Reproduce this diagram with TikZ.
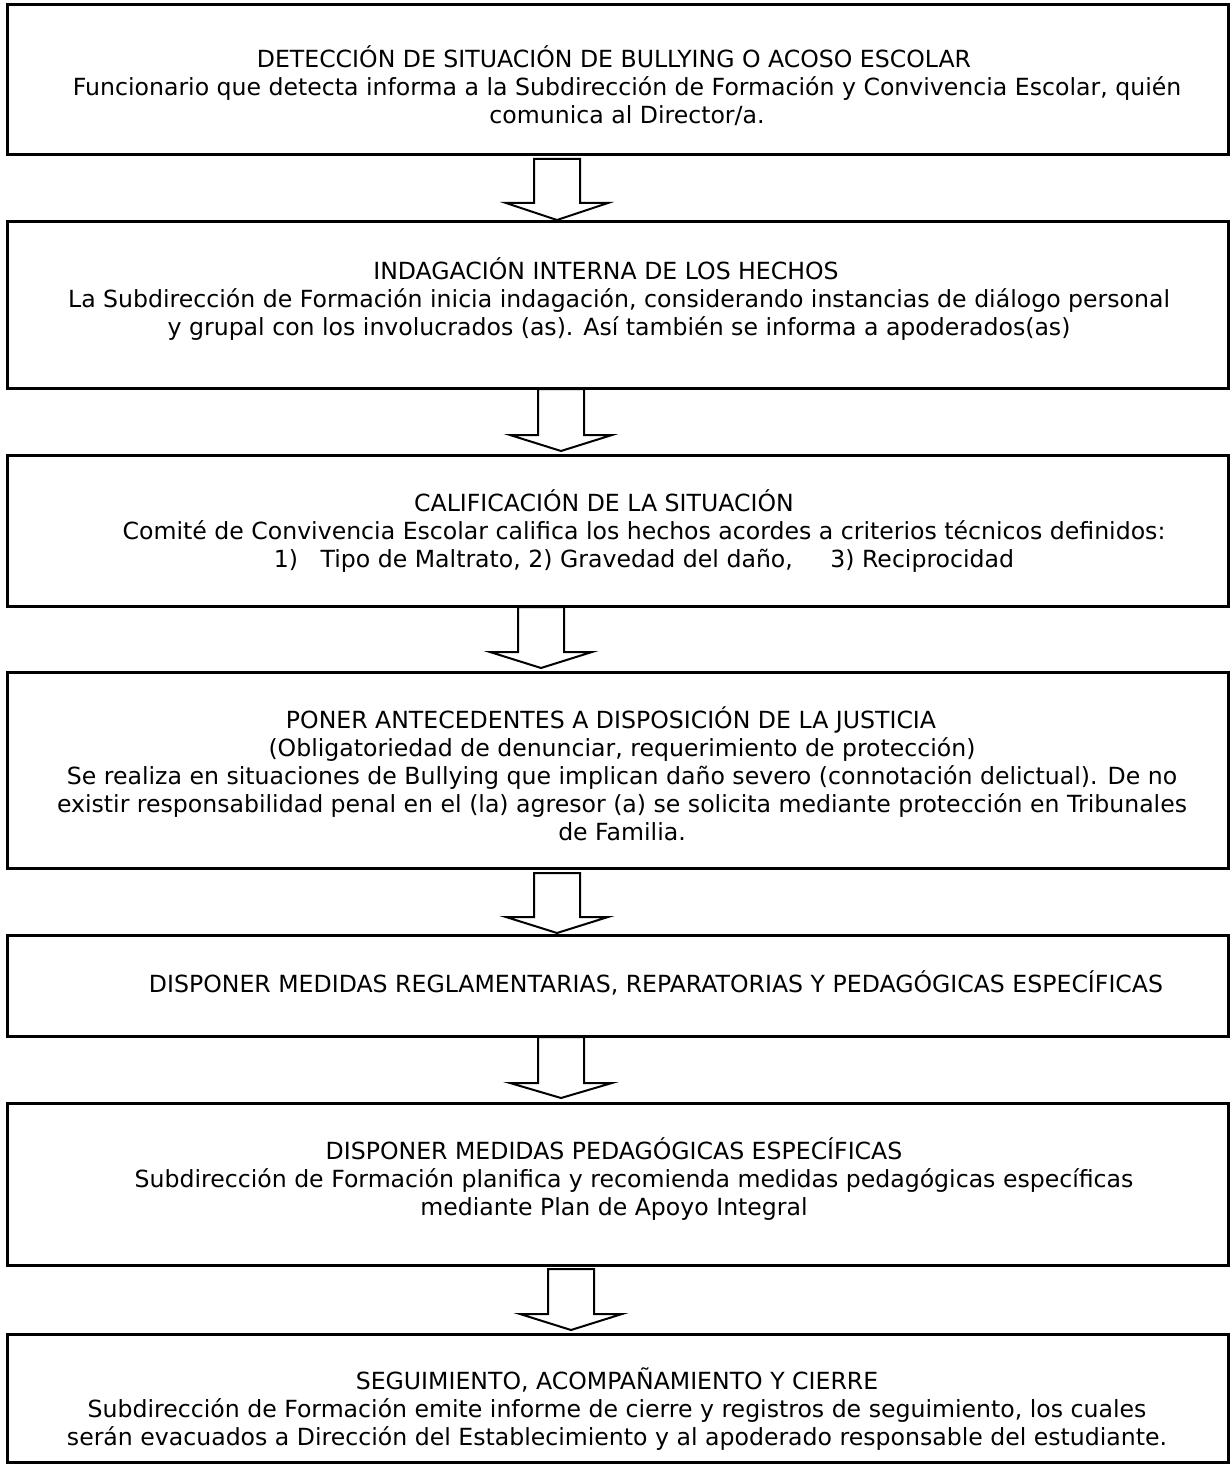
\documentclass[tikz,border=0pt]{standalone}
\usepackage{fontspec}
\setmainfont{DejaVu Sans}
\usetikzlibrary{fit,calc}
\begin{document}
\begin{tikzpicture}[x=0.5pt,y=-0.5pt,
  box/.style={draw, line width=1.5pt, inner sep=0pt},
  txt/.style={align=center, font=\fontsize{11.8}{14}\selectfont, inner sep=0pt, anchor=north},
  blk/.style={draw, line width=1pt, fill=white, line join=miter}]
\useasboundingbox[fill=white] (0,0) rectangle (1230,1466);
% boxes
\node[box, fit={(7,5) (1228,155)}] (b1) {};
\node[box, fit={(7,222) (1228,388)}] (b2) {};
\node[box, fit={(7,455) (1228,606)}] (b3) {};
\node[box, fit={(7,672) (1228,868)}] (b4) {};
\node[box, fit={(7,935) (1228,1036)}] (b5) {};
\node[box, fit={(7,1103) (1228,1265)}] (b6) {};
\node[box, fit={(7,1334) (1228,1462)}] (b7) {};
% texts
\node[txt] (t1) at (627,45) {DETECCIÓN DE SITUACIÓN DE BULLYING O ACOSO ESCOLAR\hspace*{13pt}\\
Funcionario que detecta informa a la Subdirección de Formación y Convivencia Escolar, quién\\
comunica al Director/a.};
\node[txt] (t2) at (619,257) {INDAGACIÓN INTERNA DE LOS HECHOS\hspace*{13pt}\\
La Subdirección de Formación inicia indagación, considerando instancias de diálogo personal\\
y grupal con los involucrados (as). Así también se informa a apoderados(as)};
\node[txt] (t3) at (644,489) {CALIFICACIÓN DE LA SITUACIÓN\hspace*{40pt}\\
Comité de Convivencia Escolar califica los hechos acordes a criterios técnicos definidos:\\
1)\ \ \ Tipo de Maltrato, 2) Gravedad del daño,\ \ \ \ \ 3) Reciprocidad};
\node[txt] (t4) at (622,706) {PONER ANTECEDENTES A DISPOSICIÓN DE LA JUSTICIA\hspace*{11pt}\\
(Obligatoriedad de denunciar, requerimiento de protección)\hspace*{15pt}\\
Se realiza en situaciones de Bullying que implican daño severo (connotación delictual). De no\\
existir responsabilidad penal en el (la) agresor (a) se solicita mediante protección en Tribunales\\
de Familia.};
\node[txt] (t5) at (656,970) {DISPONER MEDIDAS REGLAMENTARIAS, REPARATORIAS Y PEDAGÓGICAS ESPECÍFICAS};
\node[txt] (t6) at (614,1137) {DISPONER MEDIDAS PEDAGÓGICAS ESPECÍFICAS\\
\hspace*{20pt}Subdirección de Formación planifica y recomienda medidas pedagógicas específicas\\
mediante Plan de Apoyo Integral};
\node[txt] (t7) at (617,1367) {SEGUIMIENTO, ACOMPAÑAMIENTO Y CIERRE\\
Subdirección de Formación emite informe de cierre y registros de seguimiento, los cuales\\
serán evacuados a Dirección del Establecimiento y al apoderado responsable del estudiante.};
% block arrows
\coordinate (a1) at (557,159);
\coordinate (a2) at (561,389);
\coordinate (a3) at (541,607);
\coordinate (a4) at (557,873);
\coordinate (a5) at (561,1037);
\coordinate (a6) at (571,1269);
\foreach \a/\s/\h in {a1/44/17, a2/46/16, a3/45/16, a4/44/16, a5/46/15, a6/45/16}{
  \draw[blk] ($(\a)+(-23,0)$) -- ($(\a)+(23,0)$) -- ($(\a)+(23,\s)$) -- ($(\a)+(51,\s)$)
    -- ($(\a)+(0,\s+\h)$) -- ($(\a)+(-51,\s)$) -- ($(\a)+(-23,\s)$) -- cycle;
}
\end{tikzpicture}
\end{document}
